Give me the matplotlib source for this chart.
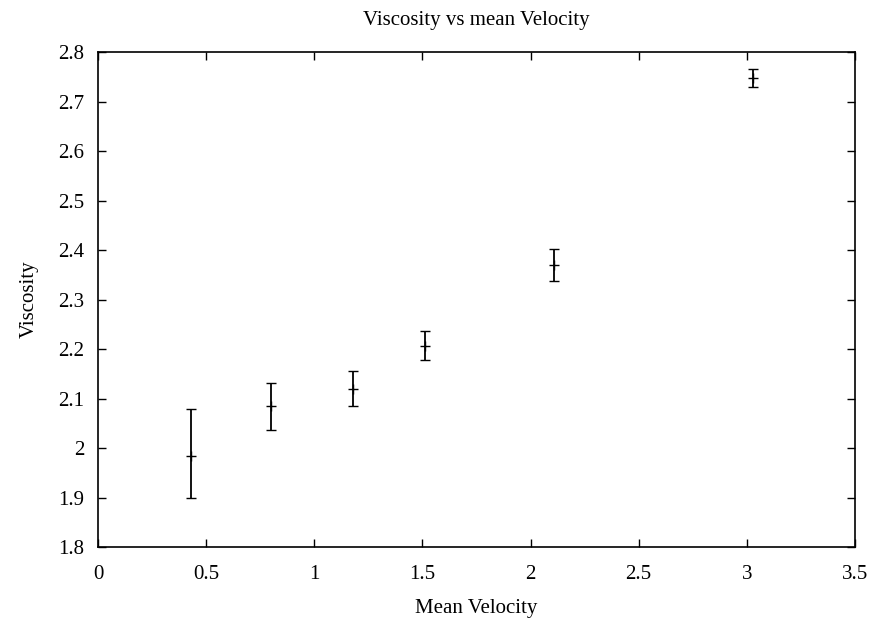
import numpy as np
import matplotlib.pyplot as plt

plt.rcParams['font.family'] = ['Liberation Serif', 'DejaVu Serif']

# values
velocity = [0.43, 0.80, 1.18, 1.51, 2.11, 3.03]
viscosity = [1.984, 2.084, 2.119, 2.207, 2.370, 2.749]
err_low = [1.900, 2.037, 2.084, 2.178, 2.338, 2.730]
err_high = [2.078, 2.131, 2.156, 2.237, 2.402, 2.766]

x_ticks = [0, 0.5, 1, 1.5, 2, 2.5, 3, 3.5]
x_labels = ['0', '0.5', '1', '1.5', '2', '2.5', '3', '3.5']
y_ticks = [1.8, 1.9, 2.0, 2.1, 2.2, 2.3, 2.4, 2.5, 2.6, 2.7, 2.8]
y_labels = ['1.8', '1.9', '2', '2.1', '2.2', '2.3', '2.4', '2.5', '2.6', '2.7', '2.8']

y = np.array(viscosity)
yerr = np.vstack([y - np.array(err_low), np.array(err_high) - y])

fig = plt.figure(figsize=(8.73, 6.18), dpi=100)
ax = fig.add_axes([0.1123, 0.1149, 0.867, 0.8005])

ax.errorbar(velocity, y, yerr=yerr, fmt='+', color='black', ecolor='black',
            elinewidth=1.3, capsize=3.3, capthick=1.3, markersize=7, mew=1.0)

ax.set_xlim(0, 3.5)
ax.set_ylim(1.8, 2.8)
ax.set_xticks(x_ticks)
ax.set_xticklabels(x_labels)
ax.set_yticks(y_ticks)
ax.set_yticklabels(y_labels)
ax.tick_params(direction='in', top=True, right=True, length=6, width=1.0,
               labelsize=15)
ax.tick_params(axis='x', pad=13)
ax.tick_params(axis='y', pad=10)
for s in ax.spines.values():
    s.set_linewidth(1.2)

ax.set_xlabel('Mean Velocity', fontsize=15, labelpad=11)
ax.set_ylabel('Viscosity', fontsize=15, labelpad=14)
ax.set_title('Viscosity vs mean Velocity', fontsize=15, pad=20)

fig.savefig('out.png', dpi=100)
